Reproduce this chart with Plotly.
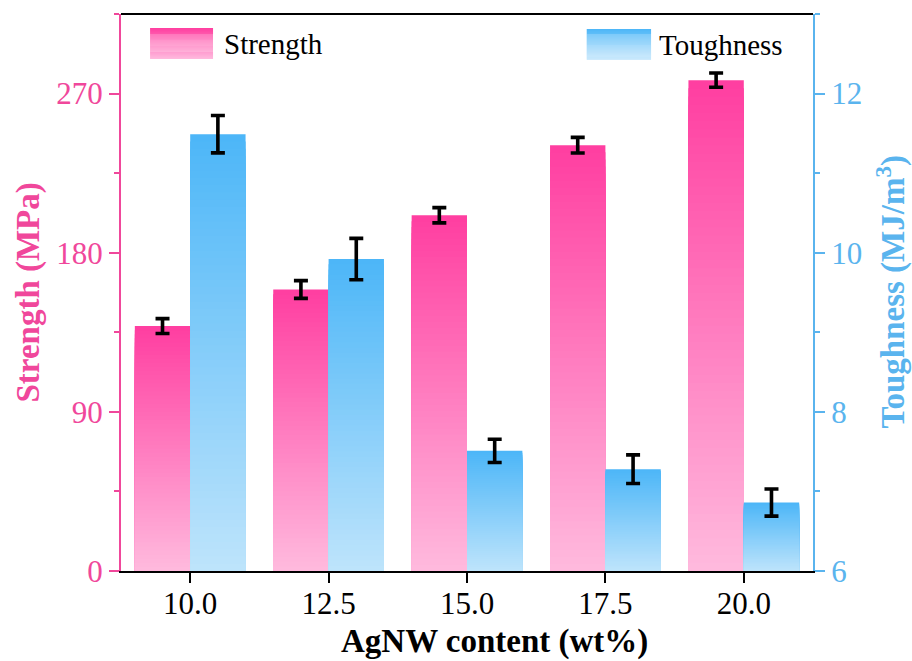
import plotly.graph_objects as go

# AgNW loading (wt%) and the measured mechanical properties
content = [10.0, 12.5, 15.0, 17.5, 20.0]
content_labels = ["10.0", "12.5", "15.0", "17.5", "20.0"]
strength = [138.5, 159.2, 201.2, 240.8, 277.6]          # MPa
strength_err = [4.2, 5.0, 4.3, 4.4, 4.0]
toughness = [11.49, 9.92, 7.51, 7.28, 6.86]             # MJ/m^3
toughness_err = [0.235, 0.26, 0.146, 0.18, 0.17]

STRENGTH_RANGE = [0, 315]
TOUGHNESS_RANGE = [6, 13]

PINK_AXIS = "#F0479B"
BLUE_AXIS = "#5AB4EE"
PINK_TOP, PINK_BOTTOM = (255, 62, 160), (255, 186, 222)
BLUE_TOP, BLUE_BOTTOM = (76, 182, 248), (190, 228, 251)
FONT = "Liberation Serif"
N_STEPS = 60


def mix(c1, c2, t):
    r, g, b = (round(a + (b_ - a) * t) for a, b_ in zip(c1, c2))
    return f"rgb({r},{g},{b})"


fig = go.Figure()


def gradient_bars(values, errors, floor, axis, offset, top, bottom):
    # stack progressively shorter bars so each bar fades from top to bottom
    for k in range(N_STEPS):
        frac = (N_STEPS - k) / N_STEPS
        t = 1 - (frac - 0.5 / N_STEPS)
        fig.add_trace(go.Bar(
            x=content,
            y=[floor + (v - floor) * frac for v in values],
            offset=offset, width=1.0,
            marker=dict(color=mix(top, bottom, t), line=dict(width=0)),
            yaxis=axis, showlegend=False, hoverinfo="skip",
        ))
    # transparent full-height bar carrying the error bars
    fig.add_trace(go.Bar(
        x=content, y=values, offset=offset, width=1.0,
        marker=dict(color="rgba(0,0,0,0)", line=dict(width=0)),
        error_y=dict(type="data", array=errors, color="black",
                     thickness=3.6, width=7),
        yaxis=axis, showlegend=False,
    ))


gradient_bars(strength, strength_err, STRENGTH_RANGE[0], "y", -1.0,
              PINK_TOP, PINK_BOTTOM)
gradient_bars(toughness, toughness_err, TOUGHNESS_RANGE[0], "y2", 0.0,
              BLUE_TOP, BLUE_BOTTOM)

shapes = [dict(type="line", xref="paper", yref="paper", x0=0, x1=1, y0=1, y1=1,
               line=dict(color="black", width=2))]


def swatch(x0, x1, y0, y1, top, bottom, n=30):
    for k in range(n):
        ya = y1 - (y1 - y0) * k / n
        yb = y1 - (y1 - y0) * (k + 1) / n
        shapes.append(dict(type="rect", xref="paper", yref="paper",
                           x0=x0, x1=x1, y0=yb, y1=ya, line=dict(width=0),
                           fillcolor=mix(top, bottom, (k + 0.5) / n)))


swatch(0.042, 0.133, 0.919, 0.975, PINK_TOP, PINK_BOTTOM)
swatch(0.673, 0.766, 0.918, 0.973, BLUE_TOP, BLUE_BOTTOM)

annotations = [
    dict(text="Strength", xref="paper", yref="paper", x=0.146, y=0.947,
         xanchor="left", yanchor="middle", showarrow=False,
         font=dict(family=FONT, size=29, color="black")),
    dict(text="Toughness", xref="paper", yref="paper", x=0.775, y=0.945,
         xanchor="left", yanchor="middle", showarrow=False,
         font=dict(family=FONT, size=29, color="black")),
    dict(text="<b>Strength (MPa)</b>", xref="paper", yref="paper", x=0, y=0.5,
         xshift=-93, textangle=-90, xanchor="center", yanchor="middle",
         showarrow=False, font=dict(family=FONT, size=33, color=PINK_AXIS)),
    dict(text="<b>Toughness (MJ/m<sup>3</sup>)</b>", xref="paper", yref="paper",
         x=1, y=0.5, xshift=78, textangle=-90, xanchor="center",
         yanchor="middle", showarrow=False,
         font=dict(family=FONT, size=33, color=BLUE_AXIS)),
    dict(text="<b>AgNW content (wt%)</b>", xref="paper", yref="paper",
         x=0.54, y=0, yshift=-70, xanchor="center", yanchor="middle",
         showarrow=False, font=dict(family=FONT, size=33, color="black")),
]

fig.update_layout(
    width=912, height=661,
    margin=dict(l=121, r=99, t=14, b=90),
    paper_bgcolor="white", plot_bgcolor="white",
    barmode="overlay", showlegend=False,
    font=dict(family=FONT),
    shapes=shapes, annotations=annotations,
    xaxis=dict(
        range=[8.75, 21.25], tickmode="array", tickvals=content,
        ticktext=content_labels, showline=True, linecolor="black",
        linewidth=2, ticks="outside", ticklen=10, tickwidth=2,
        tickcolor="black", showgrid=False, zeroline=False,
        ticklabelstandoff=-6,
        tickfont=dict(family=FONT, size=31, color="black"),
    ),
    yaxis=dict(
        range=STRENGTH_RANGE, tickmode="linear", tick0=0, dtick=90,
        showline=True, linecolor=PINK_AXIS, linewidth=2, ticks="outside",
        ticklen=10, tickwidth=2, tickcolor=PINK_AXIS, showgrid=False,
        zeroline=False, tickfont=dict(family=FONT, size=31, color=PINK_AXIS),
        minor=dict(ticks="outside", ticklen=5, tickwidth=2,
                   tickcolor=PINK_AXIS, tick0=0, dtick=45, showgrid=False),
    ),
    yaxis2=dict(
        range=TOUGHNESS_RANGE, overlaying="y", side="right",
        tickmode="linear", tick0=6, dtick=2,
        showline=True, linecolor=BLUE_AXIS, linewidth=2, ticks="outside",
        ticklen=10, tickwidth=2, tickcolor=BLUE_AXIS, showgrid=False,
        zeroline=False, tickfont=dict(family=FONT, size=31, color=BLUE_AXIS),
        minor=dict(ticks="outside", ticklen=5, tickwidth=2,
                   tickcolor=BLUE_AXIS, tick0=6, dtick=1, showgrid=False),
    ),
)

fig.write_html("out.html")
